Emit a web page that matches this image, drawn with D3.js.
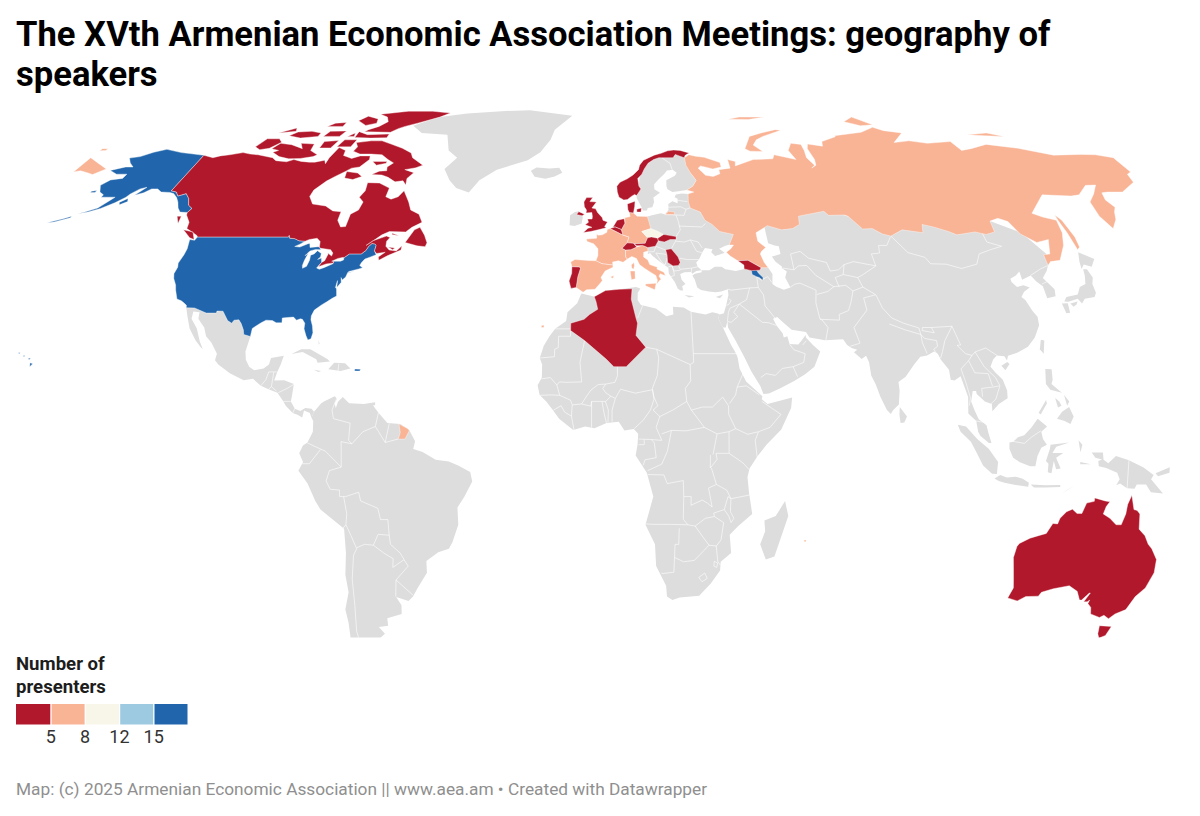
<!DOCTYPE html>
<html>
<head>
<meta charset="utf-8">
<title>Geography of speakers</title>
<script src="https://cdn.jsdelivr.net/npm/d3@7"></script>
<style>
body { margin: 0; background: #fff; font-family: Roboto, sans-serif; }
svg { display: block; }
</style>
</head>
<body>
<svg id="chart" width="1200" height="816"></svg>
<script>

// grey land
const greenland = [-73,78.2,-68,76,-58,75.5,-55,71,-51,69,-54,66,-51,63,-48,61,-43.5,59.9,-41,63,-36,65.8,-26,68.3,-22,70.5,-19,74,-18,77,-12,81.5,-30,83.5,-40,83.2,-55,82.3,-65,81,-68,80];
const iceland = [-24.3,65.5,-22.5,66.4,-18,66.1,-14.7,66.3,-13.5,65,-16,64,-19,63.4,-22.7,63.9];
const ireland = [-10,51.8,-10,54.2,-8.5,55,-7.3,55.2,-6,53.8,-6.3,52.2,-8.5,51.6];
const fennoscandia = [11.2,59,11.2,58.5,12.5,56.3,12.9,55.4,14.2,55.4,14.5,56,16,56.2,16.7,57.5,16.6,58.6,18.9,59.8,17.2,60.7,17.3,62,19,63.3,21,64.6,22.2,65.6,24.2,65.8,25.4,65,24.6,64.2,21.5,63,21.3,61.5,21.5,60.7,23,60,25,60.2,27.8,60.5,30,61.5,31.5,63,30,65,30,67,29,69.5,28,70.5,20,69.5,16,67.5,13,65.5,12.5,63,12,60];
const europe = [29,59.7,28,59.5,26,59.6,24,59.4,23.5,58.7,24.4,58.3,24.2,57.2,22.6,57.7,21.2,57,21,55.5,19.8,54.4,18.5,54.7,16,54.3,14.2,53.9,13,52,13,49.5,13,47.6,13.7,46,13.7,45.6,13.6,45,14.3,45.2,15,44.5,16.5,43.5,18,42.6,19.4,41.8,19.4,40.5,20,39.7,21,38.4,21.7,36.9,22.5,36.5,23.2,36.5,23,37.5,24,38,23,39,22.7,40.3,24,40.7,26,40.8,26.2,40.4,27.5,41,29,41.2,28,42,27.7,43,28.6,43.7,29.7,45.2,30.8,46.4,33,46.1,32.5,45.4,33.5,44.5,35.4,45,36.5,45.3,35,46.2,37,46.9,38.5,47.2,41,50,37,52,33,54.5,31,57];
const asia = [26.2,40,26.8,39,27.3,37.2,28.3,36.6,30.5,36.3,32.5,36.1,34,36.3,36,36.8,36,35.5,35,33,34.2,31.3,33,31,32.5,31.2,32.6,29.9,33.6,28,34.4,28,35,29.5,35,28,36.8,25,39,21,40.5,18,42.8,14.5,43.5,12.7,45,12.8,48,14,52,15.7,55,17.2,57.8,19,59.8,22.5,58,24,56.3,25.7,56.3,26.3,55,25,54,24.1,51.6,24.2,51.2,26,50.2,25.7,50,26.7,48.5,28.5,47.8,30,49,30.4,50.8,28.9,52.6,27.5,56.5,27,57.3,25.7,61.5,25.1,66.5,25.3,67.4,24,68.5,23.3,70,22.9,69,22.3,70.9,20.8,72.2,21.5,72.8,20,73,17,74,14.9,75,12,76.5,9,77.5,8.1,78.2,9,79.8,10.3,80.3,13.5,80.2,15.5,82.3,16.7,85,19.5,87,21.3,88.9,21.6,91,22.5,91.9,22,92.4,20.7,94.3,18.3,94.4,16,95.4,15.8,97.2,16.8,97.7,15,98.6,12,98.3,8.2,100.3,6.5,100.7,4,101.3,3,103.5,1.4,104.2,1.4,103.4,3.8,103,5.5,101,6.9,100,9,99.3,11,100,13.4,100.9,13.4,101,12.7,103,11,104.8,10.4,104.8,8.7,106.7,10.4,109.2,11.7,109.3,13.5,108.5,16,106.7,17.8,105.7,19,106.8,20.7,108,21.6,110,21.4,110.5,20.4,111,21.5,114,22.3,117,23.6,119.5,25.7,121.6,28.5,121.9,30.5,121,31.8,120,34.3,119.2,35,120.5,36.2,122.6,37.2,121,37.7,119,37.3,118,38.5,118,39.2,120,40,121.5,40.9,121.3,39,124.3,40,125.2,38.6,126.5,37.5,126.4,34.7,129,35.2,129.5,36.8,127.5,39.4,129.5,41,130.7,42.3,132,45,128,50,120,53,110,52,100,53,90,52,80,53,70,56,60,55,50,52,50,47.5,51.8,47,53,46.8,53,45,51,44.5,50.3,44.4,51,43.2,52.7,42,52.5,41.7,53.8,40.9,53,39.5,54,37.2,52,36.7,50,37.4,49,38,49.5,40.3,48.6,41.8,46,43,42,43,41.6,42,41.5,41.5,39,41,36,41.4,35,42,33,42,31.3,41.2,29,41.2,29,40.7,27,40.4];
const mexicoCentral = [-117.12,32.53,-114.8,32.5,-111.07,31.33,-108.2,31.33,-108.2,31.78,-106.5,31.75,-104.5,29.6,-103.2,29,-102.7,29.7,-101.4,29.77,-100.5,28.9,-99.5,27.5,-99.1,26.4,-97.15,25.95,-97.7,22.5,-97.2,20.6,-96,19,-94.5,18.2,-92,18.6,-90.7,19.5,-90.4,21,-87,21.5,-87.5,19.5,-88.2,17.7,-88.7,15.8,-86,15.9,-83.3,15,-83.5,12.5,-83.7,11,-82.5,9.3,-81,8.8,-79.7,9.5,-78,9.3,-77.3,8.6,-77.9,7.2,-78.4,8.3,-80,8.9,-80.4,7.3,-81.7,7.9,-83,8.3,-85,10,-85.7,11,-87.5,13,-90,13.8,-92.2,14.6,-94.5,16.2,-97,15.9,-101,17.5,-104.5,19.5,-105.6,20.5,-105.4,22,-107.5,24.5,-109.4,26,-110.5,28,-112.8,30,-113,31.5,-114.8,31.7,-114.7,30,-112.5,27.8,-110.8,24.8,-109.5,23,-110.2,23.5,-112,25,-114.5,27.8,-116,30.5];
const southAmerica = [-77.3,8.6,-75.5,10.6,-74.8,11,-72,12.2,-71.3,11.6,-71.9,10.5,-71.5,9.5,-71,10.9,-69.8,12,-68,10.6,-64,10.4,-62,10.7,-61,9.5,-60,8.4,-57.5,6,-54,5.8,-51.7,4.5,-50,1.8,-50.5,0,-48,-0.7,-44.5,-2.5,-41,-2.9,-38.5,-3.8,-35.3,-5.3,-34.8,-7.5,-37,-11,-39,-13.5,-39,-17.5,-40.9,-21.5,-42,-23,-45,-23.8,-48.5,-25.8,-48.7,-28.5,-52,-32.2,-53.5,-34,-55,-35,-58.3,-34.1,-57.2,-36,-57.6,-38,-62,-39,-62.2,-40.7,-65,-41,-63.7,-42.6,-65.3,-43.5,-65.5,-45,-67.5,-46,-67,-48,-69,-51,-68.5,-52.5,-71,-53.5,-74,-52,-75.5,-48,-74,-43,-73.5,-40,-73.5,-37,-71.5,-33,-71.5,-29,-70.4,-24,-70.1,-18.4,-72,-17,-76,-14,-77.2,-12,-79,-8,-81.3,-5,-80,-3,-81,-1,-80,0.8,-78.8,1.5,-77.4,4,-77.4,6.5,-77.9,7.2];
const africa = [-5.9,35.8,-2,35.1,1,36.5,5,36.8,9.8,37.3,11,37,10.2,36,10.1,34.3,11,33.2,15.2,32.4,18,30.6,20,31,20,32.8,23,32.6,25,31.6,29,31,31,31.5,32.5,31.2,32.6,29.9,33.6,28,35.5,24,37,21.5,37.4,18.6,39,15.6,43.2,12.2,43,11.5,44.5,10.4,51.2,11.9,50.8,9.5,48,4.5,44,1,41.5,-1.8,39.5,-4.5,39,-6.5,39.5,-10,40.6,-15,37,-17.8,34.8,-19.8,35.5,-24,32.8,-26,32.8,-28,30.5,-31,27.5,-33.8,22,-34.2,20,-34.8,18.4,-34,18,-31.5,15,-27,14.5,-22,11.8,-17.5,13.8,-11,12,-5.5,9,-1.5,9.5,1,9.7,3.5,8.5,4.6,6,4.3,4.5,6.3,1.2,6,-2,4.8,-4.5,5.2,-7.7,4.4,-11.5,7,-13.2,9,-15,11,-16.8,12.5,-17.4,14.7,-16.3,16.5,-16.3,19.5,-17,21,-16,23.8,-14.5,26,-13,27.7,-10,29.5,-9.7,31.5,-7,33.6];
const greyIslands = [
  [49.3,-12,50.4,-15.5,47.5,-24.8,45.2,-25.5,43.3,-22,44.4,-19,44,-16.5,47,-15.5],
  [130.9,34,132,35,135.5,35.6,137,37.3,139,38,140,40,140.4,41.4,141.5,41.4,142,39.5,141,38,140.9,36,140,35,137,34.6,135.7,33.5,135,34.6,132,33.9],
  [130,33.5,131.7,33.6,131.4,31.4,130.3,31.3],
  [132.4,33.5,134.7,34,134,33.3,133,32.8],
  [140,41.5,140.5,43.2,141.7,45.4,145.3,43.8,143.3,42,141.3,42.5],
  [121,25.2,121.9,25,120.9,22,120.1,23],
  [108.7,19.2,110.5,20.1,111,19.6,109.6,18.2],
  [80,9.7,81.8,7.5,81,6.1,80,6,79.8,8],
  [120.5,18.5,122.2,18.4,122,16,121.5,15,124,13,121,13.7,120,15],
  [122,7,123.5,8.6,125.5,9.7,126.5,7.5,125.5,5.8,124,6.5],
  [122,11.8,123,11,123.5,10,122.5,9.6],
  [124.5,12.5,125.7,11,125,10],
  [117.2,8.4,119.5,11.3,119.6,10.5,117.7,8],
  [109,1.5,110,1.7,111.3,2.7,113,3.2,115,5,116.8,7,119.2,5.2,117.6,4,118,2.3,119,1,117.5,0.3,116.5,-1.6,116,-4,114.6,-4,111.7,-3,110,-2,109,0],
  [95.3,5.6,97.5,5.2,100.4,2.3,103.5,0,106,-3,105.8,-5.8,104.5,-5.7,102,-3.8,100.3,-1,98.7,1.7,96,4],
  [105.2,-6.8,106.7,-6,108.5,-6.6,110.8,-6.4,112.8,-6.9,114.5,-7.8,114.4,-8.7,111,-8.3,108,-7.8,106.4,-7.4],
  [115,-8.2,119,-8.4,123,-8.3,123,-8.8,119,-8.9,116,-8.9],
  [123.6,-10.3,127,-8.4,125,-9.4],
  [120,1,125,1.5,121.5,0.5,120.5,-0.9,123.4,-0.9,121.5,-2,122.8,-4.5,121.6,-4.7,120.9,-2.8,120.4,-5.6,119.4,-5.4,119.5,-3.4,118.8,-2.8,119.8,0],
  [131,-0.8,134,-0.8,134.2,-2.5,135.5,-3.3,137.5,-1.6,141,-2.6,145,-4.3,147.8,-6,147.2,-7,150.8,-10.3,147.5,-10,146,-8.2,143.5,-8.2,143,-9.2,141,-9.1,139,-8,138,-8.4,138.8,-7,138,-5.5,135,-4.4,133,-4,132.8,-2.8,133.8,-2.4,132,-2],
  [127.5,2,128.5,1,128,-0.8],
  [128,-3,130.8,-3.5,128,-3.5],
  [148.3,-5.6,152,-4.2,152,-5.5,149,-6.3],
  [-85,21.9,-82.5,23,-80,23,-75,20.8,-74.2,20.2,-77.5,19.9,-78,20.7,-82,22.4],
  [-74.4,18.4,-73,19.9,-70,19.8,-68.4,18.6,-71,18],
  [-78.3,18.3,-76.3,18,-77,17.8],
  [-78.2,25.2,-77.7,24.3,-77.9,24.1],
  [-61.9,10.7,-61,10.8,-61,10.1,-61.9,10.1],
  [32.3,35,34.5,35.6,33.5,34.7],
  [23.5,35.5,26.3,35.2,24.7,34.9]
];

// countries with presenters
const usaLower = [-124.7,48.4,-123.1,48.2,-122.8,49,-95.15,49,-95.15,49.4,-94.6,48.7,-93,48.6,-91.5,48.1,-89.6,48,-90.8,47.3,-92.1,46.75,-90.5,46.6,-88.4,47.4,-87.9,47.45,-87.4,46.5,-85,46.7,-84.4,46.5,-84,46,-85.5,46.05,-87,45.7,-87.7,45,-88,44.55,-87.3,45.2,-87.7,43.5,-87.8,42.3,-87.5,41.65,-86.5,42.1,-86.2,43.5,-86.4,44.7,-85.5,45,-84.8,45.75,-83.4,45.1,-83.3,44.3,-83.9,43.7,-82.9,44.05,-82.45,43,-83.1,42.2,-83.4,41.7,-82.5,41.4,-81.3,41.8,-79,42.7,-78.9,43.1,-79.05,43.27,-77,43.3,-76.2,43.6,-76.3,44.1,-75,45,-71.5,45,-70.4,45.8,-70,46.7,-69.2,47.45,-68.3,47.35,-67.8,47.05,-67.8,45.7,-67,44.8,-68.5,44.3,-70,43.8,-70.7,43,-71,42.3,-70,41.8,-71,41.5,-73.7,40.9,-74,40.6,-72,41,-74,40.5,-74.2,39.6,-75,38.95,-75.5,39.5,-75.1,38.4,-76,37.2,-76.3,38.8,-76.4,37.2,-76,36.9,-75.5,35.25,-76.6,34.7,-77.9,33.9,-79.2,33.2,-80.9,32,-81.4,30.7,-81.3,29.8,-80.55,28.4,-80.05,26.8,-80.3,25.4,-81.1,25.15,-81.8,26.1,-82.7,27.7,-82.8,29,-83.7,29.9,-84.3,30,-85.3,29.7,-86.3,30.4,-88,30.3,-89.4,30.2,-89.2,29.1,-90.8,29.1,-92,29.6,-93.8,29.7,-95,29.1,-97.1,27.8,-97.15,25.95,-99.1,26.4,-99.5,27.5,-100.5,28.9,-101.4,29.77,-102.7,29.7,-103.2,29,-104.5,29.6,-106.5,31.75,-108.2,31.78,-108.2,31.33,-111.07,31.33,-114.8,32.5,-117.12,32.53,-117.3,33.1,-118.4,33.75,-119.2,34.15,-120.6,34.55,-121.9,36.6,-122.5,37.8,-123.8,39.3,-124.35,40.4,-124.1,41.9,-124.5,42.85,-124,44.8,-123.95,46.2];
const alaska = [-141,69.65,-145,70,-150,70.4,-156.5,71.3,-160,70.5,-163,69.3,-166.2,68.9,-164,67.6,-161.5,66.5,-164,66.5,-168,65.6,-164.5,64.6,-161,64.6,-161,63.5,-164.5,63.1,-166,61.7,-164,60,-162,59.3,-162,58.7,-158,58.7,-157.5,58.7,-160,56,-163,55,-164.8,54.6,-162,55,-159,55.9,-156,57.3,-154,58.7,-153.5,59.5,-151.8,60.8,-150,61.2,-151.8,59.2,-149.5,59.8,-148,60.8,-146,60.8,-144,60,-141,59.9,-139.5,59.6,-137.5,58.6,-136,57.5,-134.5,56,-133,55,-130.6,54.9,-130,55.9,-131.8,56.7,-133.4,58.4,-135.4,59.6,-137.5,59,-139,60,-141,60.3];
const usaIslands = [
  [-154.7,57.4,-153,58.4,-152.2,57.6,-154,56.8],
  [-172,52.4,-168,53.4,-166,54,-166,53.6,-170,52.6],
  [-167,60.2,-165.5,60.4,-165.5,59.9,-167,59.9],
  [-155.9,19.9,-155.1,19.7,-155.7,19],
  [-156.7,21,-156,20.9,-156.4,20.6],
  [-158.3,21.6,-157.7,21.5,-158,21.3],
  [-159.8,22.2,-159.3,22.2,-159.5,21.9],
  [-67.2,18.5,-65.6,18.4,-65.8,18,-67.2,18]
];
const canadaMain = [-141,69.65,-137,69,-135,69.5,-132,69.8,-128,70.4,-125,70,-122,69.8,-119,69.4,-116,69,-114,68.2,-110,67.9,-108,68.5,-105,68,-102,67.8,-100,67.8,-97,68.3,-96,67.4,-96,69,-95,71.8,-92,71,-91.5,69.6,-88,68.8,-85.5,69.5,-82,69.5,-81.5,68.5,-83.5,66.5,-86,66.2,-87.5,65.3,-90,64,-92,62.8,-94.5,60.5,-94.7,58.9,-92.5,57,-88,56.5,-85,55.3,-82.3,55.1,-82.2,53,-80.5,51.4,-79,51.5,-79,54.5,-77,55.5,-76.6,57.5,-78.5,58.7,-77.5,60.3,-78,62.4,-74,62.3,-70,61,-70,58.8,-68,58.2,-66,58.8,-64.8,60.3,-62,57.5,-60.5,55.5,-57.5,54.5,-55.8,52.5,-58.5,51.3,-60,50.2,-65,50.3,-67,49.5,-69.8,47.6,-70.8,47,-69.2,48.1,-65.5,49.2,-64.3,48.9,-65,48,-64.8,46.8,-63.5,45.9,-61.3,45.7,-60,46.9,-60,45.9,-63.5,44.6,-65.8,43.5,-66.2,44.3,-64.5,45.4,-67,45.1,-67.8,45.7,-67.8,47.05,-68.3,47.35,-69.2,47.45,-70,46.7,-70.4,45.8,-71.5,45,-75,45,-76.3,44.1,-76.5,44.2,-78,43.95,-79.6,43.3,-79.05,43.27,-78.9,42.9,-81,42.65,-83,42,-82.45,43,-81.7,43.4,-81.3,45,-81.6,45.25,-80.1,44.5,-80,45.2,-81,46,-84,46.3,-84.6,46.5,-85,47.9,-86.3,48.7,-88.5,48.4,-89.6,48,-91.5,48.1,-93,48.6,-94.6,48.7,-95.15,49.4,-95.15,49,-122.8,49,-123.1,49.3,-124.8,50,-127.5,51,-128,52.5,-130.3,54.3,-130.6,54.9,-130,55.9,-131.8,56.7,-133.4,58.4,-135.4,59.6,-137.5,59,-139,60,-141,60.3];
const canadaIslands = [
  [-65,61.8,-66.5,62.9,-69,62.6,-72,63.8,-74.5,64.4,-78,64.5,-76,65.4,-73.5,65.5,-74,66.5,-72.5,67.6,-75,68.5,-78,69.8,-82,70,-86,70,-89,70.8,-88.5,72,-90,73.2,-85,73.7,-81,73.7,-77,72.8,-72,71.6,-68,70.3,-66.7,69,-62,67,-64,66.3,-67.5,65.8,-64,65,-65.5,63.5],
  [-117.5,70.5,-114,69.3,-110,68.7,-106,68.8,-102,69.3,-101,69.8,-104.5,71,-105,72.8,-110,73,-108,71.5,-113,72.6,-117.5,73,-119,71.5,-116,71],
  [-125.5,72,-123,71.2,-120,71.6,-117.5,73.3,-119.5,74.3,-124,74.3],
  [-90,76.4,-85,76.3,-80,76.2,-78,77.3,-76,78,-72,79,-65,81,-62,82.4,-70,83.1,-80,83.1,-90,82,-86,81,-84,79.5,-86,78,-89,77],
  [-92,74.7,-86,74.5,-80,74.6,-80,75.7,-88,75.5,-92,76.4],
  [-96,79.8,-91.5,78.3,-88,79,-89,80.4,-94,81.3],
  [-117,75.2,-112,74.5,-106,75,-106,76,-110,76.5,-115,76.3],
  [-96,72,-91,72,-90.5,74,-95,74],
  [-102,71.7,-98,71.7,-97,73.8,-102,73.5],
  [-87,65.3,-83,64.9,-81,64,-83.5,63.2,-86.5,63.6],
  [-59.3,47.7,-55.5,46.9,-53,46.7,-52.7,47.6,-54,49.4,-56,51.3,-57.5,50.7],
  [-128.3,50.7,-125,50.2,-123.4,48.4,-125,48.8],
  [-64,49.9,-61.7,49.3,-64,49.6],
  [-133,54,-131.7,54,-131.2,52.2],
  [-104,75,-98,75,-97,76.6,-103,76.5],
  [-122,76,-116,76.5,-117,77.5],
  [-106,78,-100,78,-100,79.2,-104,79],
  [-95,75,-92.5,75,-93,76],
  [-64,46.6,-62,46.4,-62.5,46],
  [-80,68,-75,68,-75,67.5,-78,67]
];
const greatBritain = [-5.7,50.05,-3.5,50.3,-1.2,50.7,1.3,51.2,0.8,51.5,1.7,52.6,0.3,53,0.1,53.6,-1.4,54.9,-2,55.8,-3.2,56,-1.8,57.5,-3.9,57.6,-3,58.6,-5,58.6,-5.8,57.5,-5.6,56.3,-4.9,55.5,-5,54.8,-3.2,54.9,-3,53.9,-3.1,53.3,-4.5,53.3,-4.2,52.5,-5.2,51.9,-3.1,51.3,-4.3,51.1];
const northernIreland = [-7.3,55.1,-5.5,54.5,-6.2,54.1,-8,54.4];
const norway = [11.2,59.1,10.6,59.4,9.5,58.9,8.2,58.1,7,58,5.5,58.7,5,60,4.9,61.5,6,62.5,8.5,63.4,10.5,64.4,12.5,65.8,13,67,14.5,68.3,16.5,69,18.5,69.7,21,70.2,23.5,70.9,25.7,71.1,28,71,31,70.3,29.5,69.7,28.9,69,26,69.9,25,69,21,69,20,69,18.1,68.5,16,67.5,14.5,66,13.5,64.6,12,63.5,12.2,61.5,12.8,60.8,11.8,59.7];
const france = [2.5,51,1.6,50.8,1.5,50.1,0.1,49.5,-1.2,49.4,-1.6,49.7,-1.6,48.7,-4.7,48.5,-4.5,47.9,-2.5,47.4,-1.2,46.2,-1.2,44.6,-1.8,43.4,0,42.7,3.2,42.4,3.1,43.1,4.8,43.4,6.2,43.05,7.5,43.8,7,44.3,7,45.9,6,46.3,7.6,47.6,8.2,49,6.2,49.5,4.8,50.1];
const corsica = [8.6,42.4,9.4,43,9.5,42.2,9.2,41.4,8.7,41.7];
const frenchGuiana = [-54.4,5.8,-52,4.7,-51.6,4.2,-52.7,2.3,-54.5,2.3,-54,3.8];
const reunion = [55.2,-21,55.8,-21,55.7,-21.4,55.3,-21.4];
const spain = [-1.8,43.4,-4,43.45,-8,43.7,-9.2,43.1,-8.8,42,-6.6,41.95,-6.3,41.6,-7,39.7,-7.4,37.2,-6.3,36.6,-5.4,36.1,-4.4,36.7,-2,36.8,-0.4,38.3,0.1,38.8,-0.3,39.5,0.9,41,3.2,41.9,3.2,42.4,0,42.7];
const balearic = [2.4,39.6,3.4,40,3.2,39.3];
const canary = [-16.9,28.4,-16.2,28.6,-16.1,28,-16.8,28];
const portugal = [-8.8,42,-6.6,41.95,-6.3,41.6,-7,39.7,-7.4,37.2,-8.9,37,-9.5,38.7,-8.8,40.5];
const belgium = [2.5,51,4,51.4,5.9,50.8,6.2,49.9,6.2,49.5,4.8,50.1];
const netherlands = [3.4,51.4,4.7,53,6.9,53.4,7.1,52.3,6,50.8,5.9,50.8,4,51.4];
const germany = [7.1,53.6,8.8,53.9,8.6,54.9,9.9,54.8,11,54,14.2,53.9,14.6,52.5,15,51,12.2,50.3,13.8,48.8,13,47.5,10,47.4,7.6,47.6,8.2,49,6.2,49.5,6,50.8,7.1,52.3];
const denmark = [8.2,55.6,8.1,57,10.6,57.7,10.4,56.4,9.9,54.8,8.6,54.9];
const zealand = [11,55.7,12.5,56,12.3,55,11,55];
const czechia = [12.2,50.3,15,51,16.9,50.4,18.8,49.6,16.9,48.7,15,49,13.8,48.8];
const switzerland = [6,46.3,7,45.9,8.6,46,10.4,46.6,9.5,47.5,7.6,47.6];
const austria = [9.5,47.5,10.4,46.9,12.2,47,13.7,46.5,16,46.8,17,48.1,16.9,48.7,15,49,13.8,48.8,13,47.5,10,47.4];
const slovakia = [16.9,48.7,17,48.1,18.8,47.8,20.6,48.4,22.4,48.4,22.5,49.1,19.5,49.5,18.8,49.6];
const italy = [7,44.3,7.5,43.8,8.8,44.4,10.2,43.9,11,42.5,12.3,41.7,14,40.8,15.6,40,16,38.9,15.7,37.95,16.6,38.8,17.1,39.1,16.5,39.8,16.9,40.4,18.4,39.9,18,40.7,16,41.5,16.2,41.9,14,42.5,13.5,43.6,12.3,44.3,12.4,45.4,13.7,45.7,13.7,46.5,12.2,47,10.4,46.6,8.6,46,7,45.9];
const sicily = [12.5,38,15.6,38.2,15.1,36.7,12.5,37.6];
const sardinia = [8.2,41,9.6,41,9.6,39.2,8.5,39];
const serbia = [19,46,20.7,46.2,22.5,44.3,23,43,22.4,42.3,20.8,42.2,19.3,43,19.3,44.8];
const georgia = [40,43.4,43,43.5,46.5,41.8,46,41.2,43.5,41.1,41.5,41.5,41.6,42.4];
const armenia = [43.5,41.2,45,41.3,45.5,40.5,46.6,39.5,46.4,38.9,45.5,39.5,44.8,39.7,43.6,40.2];
const algeria = [-2.2,35.1,1,36.5,5,36.8,8.6,36.9,8.3,34.5,9.5,30.2,9.9,29,9.4,26.2,12,23.5,6.6,19,3.2,19,1.2,20.7,-4.8,25,-8.7,27.3,-8.7,29,-5,29.9,-3.5,31,-1.2,32.2,-1.7,34];
const australia = [113.7,-22.5,114.2,-21.8,116.8,-20.6,119,-20,121,-19.5,122.3,-17.2,123.6,-17.3,124,-16,125.5,-14.5,127,-13.9,128.4,-14.9,129.7,-14.9,130.6,-12.5,132.6,-12.1,132.6,-11.3,135.5,-12,136.8,-12.2,136,-13.3,135.5,-15,137.5,-16,139.5,-17.5,140.9,-17.5,141.6,-15,141.7,-12.8,142.5,-10.7,143.6,-14,144.5,-14.2,145.4,-15,146,-18.5,148,-20,149.5,-22,150.8,-23,153,-25.5,153.6,-28.5,152.8,-32,151,-34,150,-37,147.5,-38,146.3,-39.1,144.5,-38.3,143.5,-38.8,140.5,-38,139.7,-36.5,138.4,-35.6,138.5,-34.8,138,-35.2,137,-35.2,137.9,-33.2,137.6,-33.2,136.2,-34.8,135.6,-34.8,134,-32.8,131.2,-31.5,127,-32.2,124,-33,123.5,-33.9,120,-34,118,-35,115,-34.3,115.7,-32,115,-30,114,-27,113.4,-25];
const tasmania = [144.7,-40.7,148.3,-40.9,148,-43,146.5,-43.6,145.5,-42.6];
const russiaMain = [30.8,69.8,33,69.4,36,69.1,41,67.7,41,66.5,38,66,34,66.8,33,66.2,35,64.3,37.5,64,40,64.7,40,65.8,44,66.2,44,68.5,46.5,68,46,66.8,53,68.5,60,68.7,61,69.8,68,68.5,66.8,71,69,73,72.5,72.7,72.5,71,72,69,73.5,67,72,66.2,74,67,74.5,68.5,74,71.5,75,72.8,80,72.2,80.8,73.5,87,74.9,87,75.2,98,76.2,104,77.7,107,76.7,113,76,107,73.2,113,73.7,119,73,128,73.5,129,71,133,71.5,140,72.7,150,71.6,160,69.7,170,69.9,175,69.8,180,69,180,65.2,178,64.6,177,62.5,170,60,165,60,163,59.8,162,58,163,56.2,161.5,55,160,53.2,157,51,155.7,54,156.5,57.5,160,59.5,163.5,61.8,160,61.7,155,59.3,152,59,143,59.3,135.2,54.7,137.7,53.8,141.3,53,140.5,50,138.5,47,135,43.5,132,43.2,130.7,42.3,131,44.8,133,45,135,48.4,131,47.7,127.5,49.7,126,52.7,123.5,53.5,120.5,52.8,120,50.2,117,49.6,114,50.2,108,49.5,106,50.3,102,51.4,98.9,52,98,50,92,50.7,87.8,49.2,85.5,49.7,83,51,80,50.9,77,54,76,54.3,71,54.2,70,55.2,61.5,54,61,52,58.5,51,55,50.7,51,51.7,47,50,47,48,49,46.5,47.5,45.6,47,45,47.7,43,48.6,41.8,46.5,41.8,43,43.5,40,43.4,38,44.5,37,45.4,38.5,46.2,39.5,47.1,38.2,47.1,40,49.6,36,50.3,34,52,32,53,31,55,28,56,27.7,57.5,28,59.5,30,60,27.8,60.5,30,61.5,31.5,63,30,65,29,67,29,69];
const russiaIslands = [
  [-180,69,-175,67.5,-170,66,-172.5,64.5,-175,65,-178,65.5,-180,65.2],
  [-180,71.5,-178,71.5,-178,71,-180,70.9],
  [19.8,54.4,22.8,54.4,22.8,55,21,55.2],
  [51.5,71.5,53,70.8,57.5,70.7,55,72.5,57,74,60,75,68,76.8,66,77,60,76,55,75,53,73],
  [142,54.3,143,53,143.5,49,143,46.6,142,46,142,50,141.8,53],
  [95,79.5,100,78.2,105,78.5,100,81],
  [137,75.5,143,75.2,150,75,145,76],
  [50,80.3,58,80.2,65,81,55,81]
];

// presenters per country, estimated from the colour class
const presenterCountries = ["United States","Canada","Armenia","Russia","France","Spain","Italy","Germany","Czechia",
  "United Kingdom","Norway","Denmark","Netherlands","Belgium","Portugal","Switzerland","Austria","Slovakia","Serbia","Georgia","Algeria","Australia"];
const presenterCounts = [16,3,17,6,5,5,6,7,9,4,2,2,3,2,3,2,2,1,2,4,1,3];
const countryShapes = [
  [usaLower,alaska,...usaIslands],[canadaMain,...canadaIslands],[armenia],[russiaMain,...russiaIslands],
  [france,corsica,frenchGuiana,reunion],[spain,balearic,canary],[italy,sicily,sardinia],[germany],[czechia],
  [greatBritain,northernIreland],[norway],[denmark,zealand],[netherlands],[belgium],[portugal],[switzerland],[austria],[slovakia],[serbia],[georgia],[algeria],[australia,tasmania]
];

// inner borders of the grey countries
const borders = [
  // Africa
  [-13,27.7,-8.7,27.7],[-8.7,27.3,-8.7,26,-12,26,-12,23.4,-13,23,-13,21.3,-17,21],
  [-4.8,25,-6,20,-5.5,15.5,-9.5,15.4,-11.5,15.5,-12.2,14.8,-14,16.5,-16.4,16.2],[-12.2,14.8,-11.4,12.4],
  [-11.4,12.4,-8.5,11.3,-8,10.2,-5.5,10.4,-4.3,12,-3,13.6,-1,14.9,1,15,3.5,15.4,4.2,16.9,4.2,19.2,3.2,19],
  [12,23.5,15,23,15.5,21,15,17,13.6,14],[3.6,11.7,5,13.8,9,12.9,13.6,13.7],[1,15,0.2,14,1,13,2.4,12.2,3.6,11.7],
  [-5.5,10.4,-3,9.9,-2.8,11,0,11,1,11,2.4,12.2],[3.6,11.7,2.7,9,2.7,6.3],[0.9,11,1.7,9,1.6,6.2],[0,11,0.5,8.5,1.2,6],[-2.8,11,-2.8,5],
  [-8,10.2,-8.2,7.6,-7.5,4.4],[-8.2,7.6,-10,8.5,-11,10,-13,9],[-11.4,12.4,-13.7,12.5,-16.7,12.4],
  [25,31.6,25,22,36.8,22],[15,23,24,19.5,25,20,25,22],[11.5,33.1,10,30.2],[24,19.5,24,15.7,22.5,14,22.8,11],
  [22.8,11,19,9,15.5,7.5],[13.6,14,14,12,15,10,13.7,9,15.5,7.5],[13.6,13.7,14,11.5,13,9,11,6.6,8.6,4.7],[15.5,7.5,14.5,5,16,2],
  [9.8,2.3,13,2.2,16,2],[13.2,2.2,14,1.4,14.5,-2,11.5,-2.5,11,-3.8],[9.8,1,11.3,1,11.3,2.2],
  [16,3.5,18.6,4.3,22.5,4.2,27.4,5],[18.6,4.3,17.5,-0.5,16,-3.5,13,-4.7,12.2,-5],[24,9,27,9.7,29.7,9.7,32.5,12,34,10],[22.8,11,24,9,27.4,5],
  [27.4,5,30.8,3.5,34,4,35.8,4.7,34,8,34,10],[36.8,22,38.6,18,36.5,14.3,36,12.5,34.3,10.5],[36.5,14.3,39,14.6,42.4,12.5],
  [43,11,48,8,45,5,41.9,4],[35.8,4.7,39,3.4,41.9,4,41,2,41.5,-1.8],[34,4,34,1,34,-1],[34,-1,37.7,-3.2,39.3,-4.7],
  [30.8,3.5,29.7,-1.3],[30.5,-1,34,-1],[29,-1.4,29,-4.4,30.8,-2.4,30.5,-1],[29.3,-4.4,30.7,-8.2,33.5,-9.5,34.7,-11.5,40.4,-10.5],
  [12.2,-5.9,16.6,-6,17.5,-8,21.8,-7.3,22,-11,24,-11,24,-13,27,-11.8,28.4,-12.5,29.7,-13.4,28.6,-9,30.7,-8.2],[22,-11,22,-16.2,23.3,-17.5],
  [11.8,-17.3,14,-17.4,18.5,-17.4,23.3,-17.5],[21,-18.3,21,-22,20,-22,20,-28.4,17,-28.7,16.5,-28.6],[23.3,-17.5,25.3,-17.8,28,-16,30.4,-15.6,30.2,-14.8,33,-14,33.9,-11,34.7,-11.5],
  [34.7,-11.5,34.7,-14.5,35.7,-16,35,-17,34.3,-15.5,33,-14],[25.3,-17.8,27.7,-20.5,29.3,-22.2],[20,-25,22.5,-26,25.5,-25.7,29.3,-22.2,31.3,-22.4],
  [30.4,-15.6,33,-17,32.5,-21,31.3,-22.4,32,-26,32.8,-26.8],[27,-29.6,28.6,-28.6,29.4,-29.8,28,-30.6,27,-29.6],[31,-25.9,32,-26.3,31.8,-27.3,31,-27,31,-25.9],
  // Middle East and Asia
  [36,36.8,37,36.6,42.3,37.1,44.8,37.2,44.8,39.7],[44.8,37.2,46,35.5,46,33,47.7,31,48.5,30],[42.3,37.1,41,34.4,38.8,33.4,36,32.4,35.5,31.5,35,29.5],
  [38.8,33.4,37,31.5,38,30.5,36,29.2,35,29.4],[38.8,33.4,44.7,29.2,46.5,29.1,48.4,28.5],[36,34.6,36.6,34.2,35.8,33.3,35.1,33.1],
  [43,16.5,44.5,17.4,47,17,49,18.6,52,19,55,20,55.6,22,52.6,22.9,51.6,24.2],[52,19,53,16.7],[55.2,24,56.3,25],
  [44.8,39.7,46,38.9,48,39.7,48.9,38.4],[54,37.3,55.5,38,57,38.2,61.2,36.6,60.5,33.7,60.9,30,61.5,29.7,62.8,28,61.7,25.1],
  [60.9,29.9,66.3,29.7,66.5,31,69.3,31.9,70.5,33.9,71.7,36.4,74.8,37.3],[61.2,35.6,64.5,36.3,66.5,37.4,70,37.7,71.7,36.4],
  [68.2,23.7,71,24.4,70,28,74.5,32,74.3,34.8,77.8,35.5],[74.8,37.3,78,35.5,79,32.5,81,30.2,84,29,88,27.9],[80,28.8,84,27.5,88.2,26.4,88,27.9],
  [88.8,27.3,92,26.8,91.5,28,89,28,88.8,27.3],[91.5,28,97.3,28.3,94.5,25,93.3,22.5,92.5,21],[88.2,26.4,89,25.5,92.2,25,92.2,23.7,91,23,92.3,20.8],[88.2,26.4,88.2,24.5,89,22],
  [97.3,28.3,98.6,24,97.6,23.9,99.5,22,101.2,21.6,102.2,22.4,105.3,23.3,108,21.6],[101.2,21.6,100,20.4,97.6,18.5,98.5,15,99.2,11.8,98.7,10],
  [100,20.4,101.2,17.6,104.8,17.4,105.5,14.5],[102.2,22.4,104,19,106.6,16.5,107.5,14.7],[102.5,12.1,102.5,14,105.5,14.3,107.5,14.6,106,11.5,104.5,10.4],[100.2,6.5,102,6.2],
  [124.3,40,128,41.5,130.7,42.3],[126.5,38,128.4,38.6],
  [87.8,49.2,91,45.3,95.5,44.2,96.5,42.7,101,42.6,105,41.6,110,42.6,112,45,116,46,119.8,46.8,116,47.8,116,49.8],
  [87.5,49,85.5,47,83,47,82.5,45.2,80,45,80.2,42.2],[52.7,41.7,56,41.3,56,45,59,45.6,61,44,66,43,66.5,41,69,41.3,71,42.5,74,43.2,80.2,42.2],
  [56,41.3,57.5,42.2,60,42.3,62,40,66.5,37.4],[80.2,42.2,76,40.3,74,39.5,70,40.2,71,42.5],[70,40.2,67.5,39.5,68,37.3],[74,39.5,74.8,37.3],
  [109.7,1.8,113,1.3,115,2.8,117.5,4.2],[141,-2.6,141,-9.1],
  // Europe
  [19.8,54.4,23.2,54.3,23.7,52.7,24,50.7,22.5,49.1],[21,56.2,25,56.3,26.6,55.7],[24.4,57.9,27.4,57.6],[23.2,54.3,25.7,54.2,26.6,55.7,28.2,56.1],
  [23.7,51.6,30.7,51.4,32,52.2],[22.5,49.1,22.2,48,24.9,47.8,26.7,48.3,29,47.8,30,46.4],[26.7,48.3,28.2,45.6,29.7,45.3],[20.7,46.2,22.2,48],
  [22.9,44,25,43.7,28.6,43.7],[16.1,46.8,19,45.9],[16,45.2,19,44.9],[16,45.2,17.6,43,18.5,42.4],[19.2,44,18.5,42.4],[13.7,45.5,15.5,45.5,16.1,46.8],
  [22.4,42.3,22.8,41.4,26.2,41.7,28,42],[26.2,41.7,26,40.8],[20.5,42.2,20.9,41,22.8,41.2],[19.4,42,20.5,42.2,20.9,41,21,40,20,39.7],[24,65.8,23.6,67.5,21,69],
  // Central and South America
  [-71.4,11.8,-72.5,9,-72,7,-67.5,6,-67.8,2,-66.9,1.2,-69.8,1.7,-69.8,-4.2,-74,-0.5,-75.3,0,-78.8,1.4],[-75.3,-0.1,-78.3,-3.4,-80.3,-3.4],
  [-66.9,1.2,-64,4,-60.7,5.2,-60,8.4],[-60.7,5.2,-59.8,4,-58,1.5,-57,5.9],[-58,1.5,-54.6,2.3],
  [-69.9,-4.2,-73,-5,-74,-7.4,-73,-9.3,-70.5,-9.5,-70.6,-11,-69,-11,-65.4,-10,-65,-12,-60.5,-13.7,-60,-16.3,-58,-16.3,-58,-19.9],[-69.5,-11,-69,-15,-69.5,-17.5,-68.5,-19.8,-67.3,-23],
  [-67.3,-23,-68.4,-24.5,-69.8,-30,-70.5,-36,-71.8,-42,-71.7,-47,-72.3,-51.5,-68.5,-52.4],[-67.3,-22.8,-65,-22,-62.6,-22.2],
  [-62.6,-22.2,-61,-19.7,-58,-19.9,-57.9,-22,-55.5,-24,-54.6,-25.5,-58,-27.3,-57.6,-25.3,-60,-24,-62.6,-22.2],[-54.6,-25.6,-53.7,-27,-57.6,-30.2,-53.4,-33.7],[-57.6,-30.2,-58.4,-34],[-69.5,-17.5,-70.4,-18.3],
  [-92.2,14.6,-91,16,-90.5,17.8,-89.1,17.8,-88.3,17.8],[-89.1,17.8,-89.2,15.9],[-89.2,15.9,-89.3,14.4,-90,13.8],[-89.3,14.4,-87.8,13.4],[-87.3,13,-85,14,-83.2,15],[-85.7,11,-83.7,11],[-83,8.3,-82.5,9.4],[-71.7,19.7,-71.7,18]
];

const legendTicks = [5,8,12,15];
const legendColors = ["#b2182b","#f9b395","#f7f6e9","#9ecae1","#2166ac"];
const titleLines = ["The XVth Armenian Economic Association Meetings: geography of","speakers"];
const legendTitle = ["Number of","presenters"];
const footer = "Map: (c) 2025 Armenian Economic Association || www.aea.am \u2022 Created with Datawrapper";

const svg = d3.select("#chart");

svg.selectAll("text.title").data(titleLines).enter().append("text")
  .attr("class","title")
  .attr("x",16).attr("y",function(d,i){ return 46 + i*40; })
  .attr("font-size",34.6).attr("font-weight",700).attr("fill","#000")
  .text(function(d){ return d; });

// same proportions as the Natural Earth view in the picture
const projection = d3.geoNaturalEarth1().scale(246).translate([602,449]);

const pairs = function(flat){
  var out = [];
  for (var i = 0; i < flat.length; i += 2) out.push(projection([flat[i],flat[i+1]]));
  return out;
};
const line = d3.line();
const ring = function(flat){ return line(pairs(flat)) + "Z"; };

svg.append("clipPath").attr("id","map-clip").append("rect")
  .attr("x",0).attr("y",110).attr("width",1200).attr("height",527.5);

const map = svg.append("g").attr("clip-path","url(#map-clip)");

const greyLand = [greenland,iceland,ireland,fennoscandia,europe,asia,mexicoCentral,southAmerica,africa].concat(greyIslands);
map.append("g").selectAll("path").data(greyLand).enter().append("path")
  .attr("d",ring).attr("fill","#dddddd");

map.append("g").selectAll("path").data(borders).enter().append("path")
  .attr("d",function(d){ return line(pairs(d)); })
  .attr("fill","none").attr("stroke","#fff").attr("stroke-width",0.6);

const colour = d3.scaleThreshold().domain(legendTicks).range(legendColors);

map.append("g").selectAll("path").data(presenterCountries).enter().append("path")
  .attr("d",function(d,i){ return countryShapes[i].map(ring).join(""); })
  .attr("fill",function(d,i){ return colour(presenterCounts[i]); })
  .attr("stroke","#fff").attr("stroke-width",0.4);

// legend
svg.selectAll("text.legend-title").data(legendTitle).enter().append("text")
  .attr("class","legend-title")
  .attr("x",16).attr("y",function(d,i){ return 670 + i*23; })
  .attr("font-size",18.6).attr("font-weight",700).attr("fill","#1d1d1d")
  .text(function(d){ return d; });

const legendX = d3.scaleLinear().domain([0,legendColors.length]).range([16,187.5]);

svg.selectAll("rect.cell").data(legendColors).enter().append("rect")
  .attr("class","cell")
  .attr("x",function(d,i){ return legendX(i) + (i ? 1.3 : 0); })
  .attr("y",704).attr("height",20.5)
  .attr("width",function(d,i){ return legendX(i+1) - legendX(i) - (i ? 1.3 : 0); })
  .attr("fill",function(d){ return d; });

svg.selectAll("text.tick").data(legendTicks).enter().append("text")
  .attr("class","tick")
  .attr("x",function(d,i){ return legendX(i+1) + 0.5; })
  .attr("y",743).attr("text-anchor","middle")
  .attr("font-size",18).attr("fill","#333")
  .text(function(d){ return d; });

svg.append("text")
  .attr("x",16).attr("y",795)
  .attr("font-size",17.3).attr("fill","#8f8f8f")
  .text(footer);
</script>
</body>
</html>
